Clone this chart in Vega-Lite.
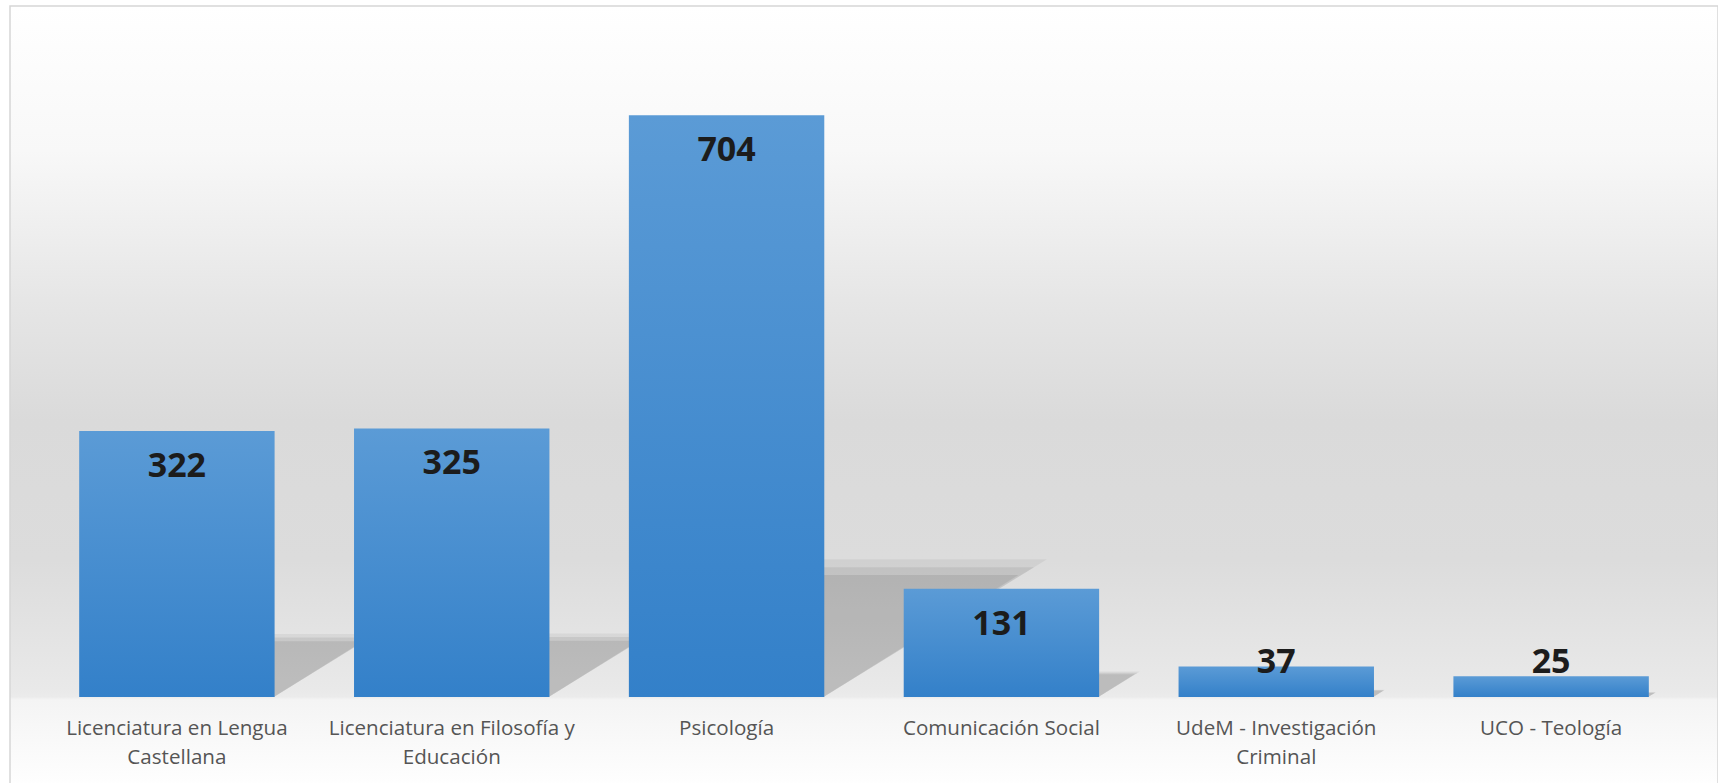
{
  "$schema": "https://vega.github.io/schema/vega-lite/v6.json",
  "width": 1708,
  "height": 784,
  "autosize": {"type": "none"},
  "padding": {"left": 10, "top": 6, "right": 0, "bottom": 0},
  "background": "#ffffff",
  "config": {
    "view": {
      "stroke": "#d6d6d6",
      "strokeWidth": 1.5,
      "fill": {
        "gradient": "linear",
        "x1": 0, "y1": 0, "x2": 0, "y2": 1,
        "stops": [
          {"offset": 0, "color": "#ffffff"},
          {"offset": 0.184, "color": "#f8f8f8"},
          {"offset": 0.375, "color": "#e6e6e6"},
          {"offset": 0.53, "color": "#dadada"},
          {"offset": 0.707, "color": "#dcdcdc"},
          {"offset": 0.872, "color": "#e9e9e9"},
          {"offset": 0.881, "color": "#ebebeb"},
          {"offset": 0.885, "color": "#f4f4f4"},
          {"offset": 1, "color": "#ffffff"}
        ]
      }
    }
  },
  "data": {
    "values": [
      {"programa": "Licenciatura en Lengua Castellana", "valor": 322},
      {"programa": "Licenciatura en Filosofía y Educación", "valor": 325},
      {"programa": "Psicología", "valor": 704},
      {"programa": "Comunicación Social", "valor": 131},
      {"programa": "UdeM - Investigación Criminal", "valor": 37},
      {"programa": "UCO - Teología", "valor": 25}
    ]
  },
  "encoding": {
    "x": {
      "field": "programa",
      "type": "nominal",
      "sort": null,
      "scale": {"paddingInner": 0.289, "paddingOuter": 0.2517},
      "axis": {
        "title": null,
        "domain": false,
        "ticks": false,
        "offset": -93,
        "labelAngle": 0,
        "labelFont": "Open Sans",
        "labelFontSize": 20.6,
        "labelColor": "#555555",
        "labelPadding": 21,
        "labelBaseline": "top",
        "labelLineHeight": 29.6,
        "labelLimit": 0,
        "labelExpr": "datum.label == 'Licenciatura en Lengua Castellana' ? ['Licenciatura en Lengua', 'Castellana'] : datum.label == 'Licenciatura en Filosofía y Educación' ? ['Licenciatura en Filosofía y', 'Educación'] : datum.label == 'UdeM - Investigación Criminal' ? ['UdeM - Investigación', 'Criminal'] : datum.label"
      }
    }
  },
  "layer": [
    {
      "mark": {
        "type": "point",
        "shape": "M0,0 L0,-1.06 L1.72,-1.06 Z",
        "filled": true,
        "fill": "#000000",
        "opacity": 0.05,
        "strokeWidth": 0,
        "xOffset": 97
      },
      "encoding": {
        "y": {"datum": 0, "type": "quantitative", "scale": {"domain": [-112.5, 836.2], "nice": false, "zero": false}, "axis": null},
        "size": {"field": "valor", "type": "quantitative", "scale": {"type": "pow", "exponent": 2, "domain": [0, 704], "range": [0, 67500]}, "legend": null}
      }
    },
    {
      "mark": {
        "type": "point",
        "shape": "M0,0 L0,-1 L1.62,-1 Z",
        "filled": true,
        "fill": "#000000",
        "opacity": 0.07,
        "strokeWidth": 0,
        "xOffset": 97
      },
      "encoding": {
        "y": {"datum": 0, "type": "quantitative", "scale": {"domain": [-112.5, 836.2], "nice": false, "zero": false}, "axis": null},
        "size": {"field": "valor", "type": "quantitative", "scale": {"type": "pow", "exponent": 2, "domain": [0, 704], "range": [0, 67500]}, "legend": null}
      }
    },
    {
      "mark": {
        "type": "point",
        "shape": "M0,0 L0,-0.94 L1.5,-0.94 Z",
        "filled": true,
        "fill": "#000000",
        "opacity": 0.08,
        "strokeWidth": 0,
        "xOffset": 97
      },
      "encoding": {
        "y": {"datum": 0, "type": "quantitative", "scale": {"domain": [-112.5, 836.2], "nice": false, "zero": false}, "axis": null},
        "size": {"field": "valor", "type": "quantitative", "scale": {"type": "pow", "exponent": 2, "domain": [0, 704], "range": [0, 67500]}, "legend": null}
      }
    },
    {
      "mark": {
        "type": "bar",
        "fill": {
          "gradient": "linear",
          "x1": 0, "y1": 0, "x2": 0, "y2": 1,
          "stops": [
            {"offset": 0, "color": "#5b9bd6"},
            {"offset": 1, "color": "#3380c9"}
          ]
        }
      },
      "encoding": {
        "y": {"field": "valor", "type": "quantitative", "scale": {"domain": [-112.5, 836.2], "nice": false, "zero": false}, "axis": null}
      }
    },
    {
      "mark": {
        "type": "text",
        "font": "Open Sans",
        "fontSize": 34,
        "fontWeight": "bold",
        "color": "#1c1c1c",
        "baseline": "middle",
        "dy": 36
      },
      "encoding": {
        "y": {"field": "valor", "type": "quantitative", "scale": {"domain": [84.7, 836.2], "range": [621, 0], "nice": false, "zero": false, "clamp": true}, "axis": null},
        "text": {"field": "valor", "type": "quantitative"}
      }
    }
  ],
  "resolve": {"scale": {"y": "independent"}}
}
